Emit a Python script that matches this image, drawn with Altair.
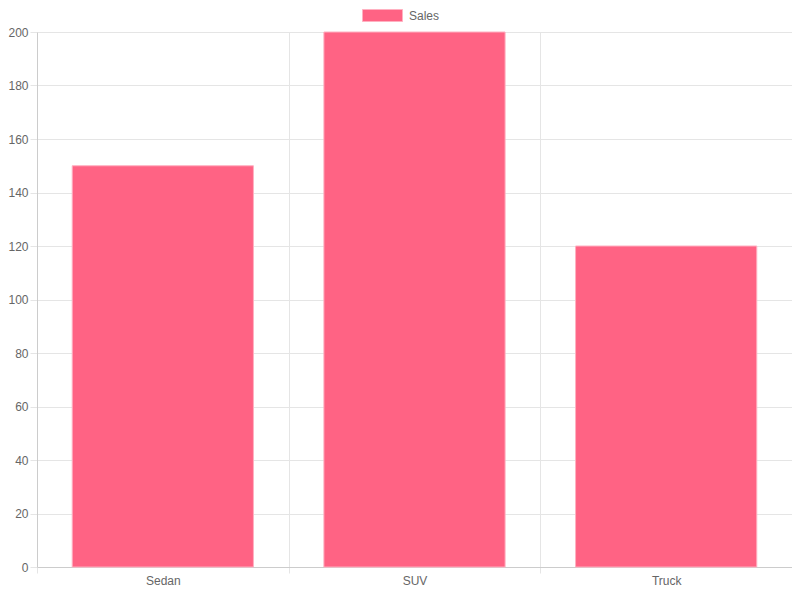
import altair as alt
import pandas as pd

categories = ["Sedan", "SUV", "Truck"]
sales = [150, 200, 120]
series_name = "Sales"

df = pd.DataFrame({"type": categories, "value": sales, "series": [series_name] * 3})

FONT = "Liberation Sans"
GRID = "#e5e5e5"
TEXT = "#666666"

bars = alt.Chart(df).mark_bar(
    width={"band": 0.72},
    fill="#FF6384",
    stroke="#FFB1C1",
    strokeWidth=1,
).encode(
    x=alt.X(
        "type:N",
        sort=categories,
        scale=alt.Scale(paddingInner=0, paddingOuter=0),
        axis=alt.Axis(
            title=None,
            labelAngle=0,
            tickBand="extent",
            grid=True,
            gridColor=GRID,
            tickColor=GRID,
            tickSize=6,
            domainColor="#cccccc",
            labelColor=TEXT,
            labelFont=FONT,
            labelFontSize=12,
            labelPadding=2,
        ),
    ),
    y=alt.Y(
        "value:Q",
        scale=alt.Scale(domain=[0, 200], nice=False),
        axis=alt.Axis(
            title=None,
            values=list(range(0, 201, 20)),
            grid=True,
            gridColor=GRID,
            tickColor=GRID,
            tickSize=7,
            domainColor="#cccccc",
            labelColor=TEXT,
            labelFont=FONT,
            labelFontSize=12,
            labelPadding=2,
        ),
    ),
    color=alt.Color(
        "series:N",
        scale=alt.Scale(range=["#FF6384"]),
        legend=alt.Legend(
            title=None,
            orient="none",
            legendX=325,
            legendY=-37,
            symbolType="M-1,-0.3H1V0.3H-1Z",
            symbolSize=1600,
            symbolStrokeColor="#FFB1C1",
            symbolStrokeWidth=1,
            labelColor=TEXT,
            labelFont=FONT,
            labelFontSize=12,
            labelOffset=6,
        ),
    ),
)

chart = bars.properties(
    width=755,
    height=535,
    autosize=alt.AutoSizeParams(type="none"),
    padding={"left": 29, "top": 24, "right": 0, "bottom": 21},
).configure_view(stroke=None)

chart.save("out.html", embed_options={"renderer": "svg", "actions": False})
